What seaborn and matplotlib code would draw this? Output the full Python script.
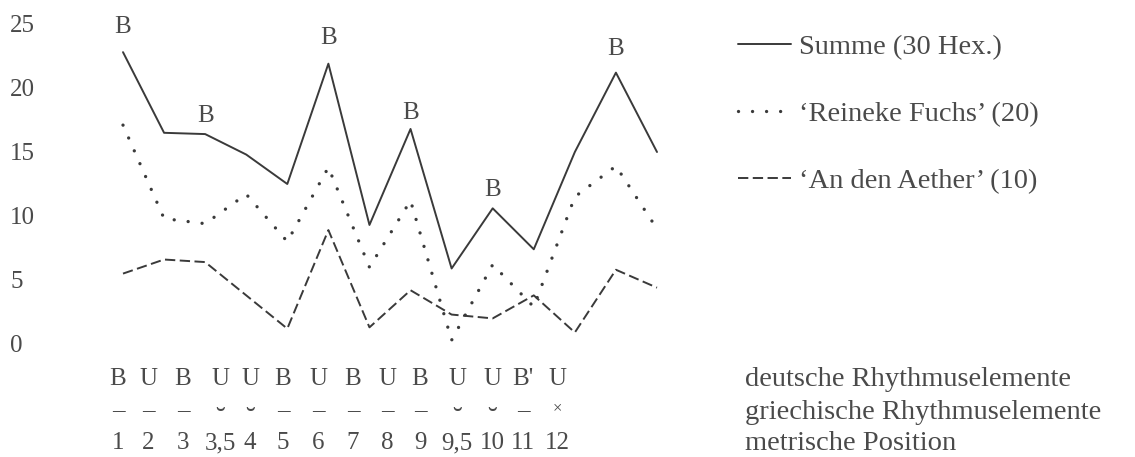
import numpy as np
import pandas as pd
import matplotlib
matplotlib.use("Agg")
import matplotlib.pyplot as plt
import seaborn as sns

# ---------------- data ----------------
metric_pos = ["1", "2", "3", "3,5", "4", "5", "6", "7", "8", "9", "9,5", "10", "11", "12"]
deutsch = ["B", "U", "B", "U", "U", "B", "U", "B", "U", "B", "U", "U", "B'", "U"]
griech = ["–", "–", "–", "˘", "˘", "–", "–", "–", "–", "–", "˘", "˘", "–", "×"]

summe = [22.8, 16.5, 16.4, 14.8, 12.5, 21.9, 9.3, 16.8, 5.9, 10.6, 7.4, 15.0, 21.2, 15.0]
reineke = [17.1, 9.8, 9.4, 11.7, 8.0, 13.8, 6.0, 11.2, 0.3, 6.2, 2.9, 11.5, 13.9, 9.0]
aether = [5.5, 6.6, 6.4, 3.8, 1.2, 8.9, 1.3, 4.2, 2.3, 2.0, 3.8, 0.9, 5.8, 4.4]

series_labels = ["Summe (30 Hex.)", "‘Reineke Fuchs’ (20)", "‘An den Aether’ (10)"]
row_labels = ["deutsche Rhythmuselemente", "griechische Rhythmuselemente", "metrische Position"]
yticks = [0, 5, 10, 15, 20, 25]

# ---------------- style ----------------
sns.set_theme(style="white")
plt.rcParams["font.family"] = ["Liberation Serif", "DejaVu Serif"]
LINE_C = "#3a3a3a"
TEXT_C = "#4a4a4a"
FS = 18        # ticks, B marks, rows under the chart
FS_R = 20.5    # legend and row titles on the right

W, H = 1135, 457
fig = plt.figure(figsize=(W / 100, H / 100), dpi=100)
AX_L, AX_T, AX_R, AX_B = 100, 0, 680, 360
ax = fig.add_axes([AX_L / W, 1 - AX_B / H, (AX_R - AX_L) / W, (AX_B - AX_T) / H])

x = np.arange(len(metric_pos))
df = pd.DataFrame({"x": x, "summe": summe, "reineke": reineke, "aether": aether})

sns.lineplot(data=df, x="x", y="summe", ax=ax, color=LINE_C, lw=1.4,
             linestyle="-", label=series_labels[0])
sns.lineplot(data=df, x="x", y="reineke", ax=ax, color=LINE_C, lw=2.4,
             linestyle=(0, (0.01, 4.2)), dash_capstyle="round", label=series_labels[1])
sns.lineplot(data=df, x="x", y="aether", ax=ax, color=LINE_C, lw=1.4,
             linestyle=(0, (5.3, 2.3)), label=series_labels[2])

X0, DX = 123, (657 - 123) / (len(x) - 1)
Y0, DY = 344, 12.8
ax.set_xlim((AX_L - X0) / DX, (AX_R - X0) / DX)
ax.set_ylim((Y0 - AX_B) / DY, (Y0 - AX_T) / DY)

for s in ax.spines.values():
    s.set_visible(False)
ax.set_xticks([])
ax.set_xlabel("")
ax.set_ylabel("")
ax.set_yticks(yticks)
ax.set_yticklabels([str(v) for v in yticks])
ax.tick_params(axis="y", length=0, pad=(AX_L - 10) * 0.72, labelsize=FS, labelcolor=TEXT_C)
for lab in ax.get_yticklabels():
    lab.set_horizontalalignment("left")

# "B" marks above the Summe line at German stressed positions
b_offsets_px = [28, 0, 21, 0, 0, 28, 0, 18, 0, 21, 0, 0, 26, 0]
for i, (d, v) in enumerate(zip(deutsch, summe)):
    if d.startswith("B"):
        ax.annotate("B", xy=(x[i], v), xytext=(0, b_offsets_px[i] * 0.72),
                    textcoords="offset points", ha="center", va="center_baseline",
                    fontsize=FS, color=TEXT_C)

# legend
leg = ax.legend(loc="upper left", bbox_to_anchor=(738 / W, 1 - 34 / H),
                bbox_transform=fig.transFigure, frameon=False, fontsize=FS_R,
                handlelength=1.85, handletextpad=0.3, labelspacing=1.45,
                borderpad=0, borderaxespad=0, labelcolor=TEXT_C)

# rows of labels under the chart
label_px = [118, 148, 183, 220, 250, 283, 318, 353, 387, 420, 457, 492, 523, 557]
row_base_px = [385, 416, 449]
mark_style = {"–": (0, FS), "˘": (11, 21), "×": (-4, 12)}
for px, d, g, m in zip(label_px, deutsch, griech, metric_pos):
    fig.text(px / W, 1 - row_base_px[0] / H, d, ha="center", va="baseline",
             fontsize=FS, color=TEXT_C)
    shift, size = mark_style[g]
    fig.text(px / W, 1 - (row_base_px[1] + shift) / H, g, ha="center",
             va="baseline", fontsize=size, color=TEXT_C)
    fig.text(px / W, 1 - row_base_px[2] / H, m, ha="center", va="baseline",
             fontsize=FS, color=TEXT_C)

right_base_px = [386, 419, 450]
for lab, by in zip(row_labels, right_base_px):
    fig.text(745 / W, 1 - by / H, lab, ha="left", va="baseline", fontsize=FS_R, color=TEXT_C)

fig.savefig("out.png", dpi=100, facecolor="white")
